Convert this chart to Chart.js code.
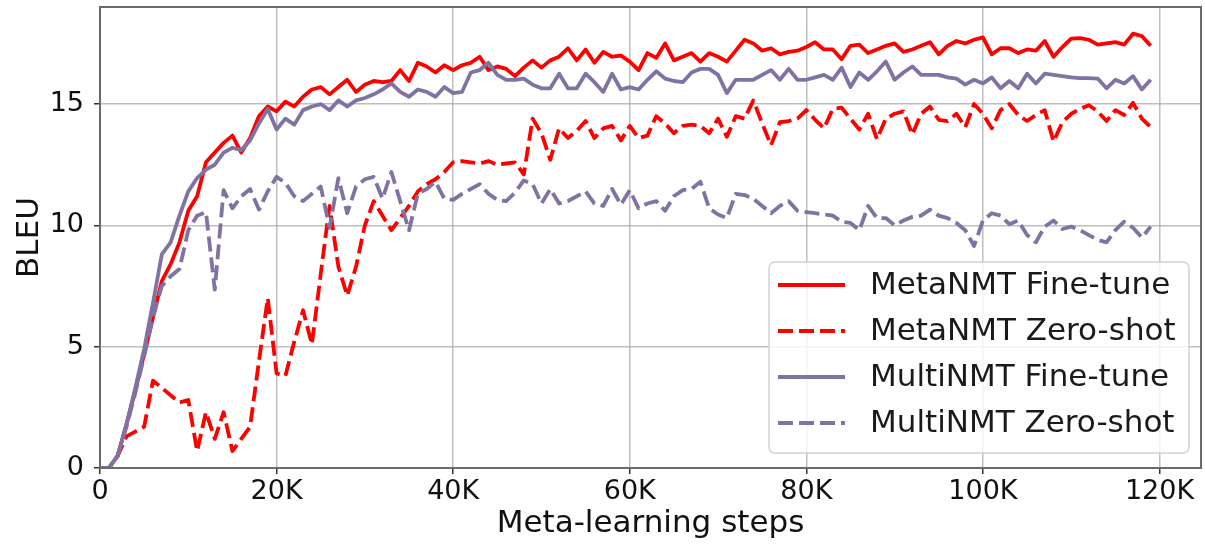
<!DOCTYPE html>
<html>
<head>
<meta charset="utf-8">
<script src="https://cdn.jsdelivr.net/npm/chart.js@4.4.1/dist/chart.umd.min.js"></script>
<style>
  html, body { margin: 0; padding: 0; background: #ffffff; }
  #wrap { width: 1205px; height: 545px; }
</style>
</head>
<body>
<div id="wrap"><canvas id="chart" width="1205" height="545"></canvas></div>
<script>
// Meta-learning steps (thousands)
const steps = [
  0, 1, 2, 3, 4, 5, 6, 7, 8, 9, 10, 11, 12, 13, 14, 15, 16, 17, 18, 19,
  20, 21, 22, 23, 24, 25, 26, 27, 28, 29, 30, 31, 32, 33, 34, 35, 36, 37, 38, 39,
  40, 41, 42, 43, 44, 45, 46, 47, 48, 49, 50, 51, 52, 53, 54, 55, 56, 57, 58, 59,
  60, 61, 62, 63, 64, 65, 66, 67, 68, 69, 70, 71, 72, 73, 74, 75, 76, 77, 78, 79,
  80, 81, 82, 83, 84, 85, 86, 87, 88, 89, 90, 91, 92, 93, 94, 95, 96, 97, 98, 99,
  100, 101, 102, 103, 104, 105, 106, 107, 108, 109, 110, 111, 112, 113, 114, 115, 116, 117, 118, 119
];

// BLEU per step
const metaFineTune = [
  0, 0, 0.5, 1.8, 3.2, 4.7, 6.2, 7.7, 8.4, 9.3, 10.6, 11.2, 12.6, 13.0, 13.4, 13.7, 13.0, 13.6, 14.5, 14.9,
  14.7, 15.1, 14.9, 15.3, 15.6, 15.7, 15.4, 15.7, 16.0, 15.5, 15.8, 15.95, 15.9, 15.95, 16.4, 15.95, 16.7, 16.55, 16.3, 16.6,
  16.4, 16.6, 16.7, 16.95, 16.4, 16.55, 16.45, 16.15, 16.5, 16.8, 16.5, 16.8, 16.95, 17.3, 16.8, 17.25, 16.7, 17.15, 16.95, 17.0,
  16.75, 16.4, 17.1, 16.9, 17.5, 16.8, 16.95, 17.1, 16.75, 17.1, 16.95, 16.75, 17.2, 17.65, 17.5, 17.2, 17.3, 17.05, 17.15, 17.2,
  17.35, 17.55, 17.25, 17.25, 16.85, 17.4, 17.45, 17.1, 17.25, 17.4, 17.5, 17.15, 17.25, 17.4, 17.55, 17.05, 17.4, 17.6, 17.5, 17.65,
  17.75, 17.05, 17.3, 17.3, 17.1, 17.25, 17.2, 17.6, 16.95, 17.35, 17.7, 17.72, 17.65, 17.45, 17.5, 17.55, 17.45, 17.9, 17.8, 17.4
];

const metaZeroShot = [
  0, 0, 0.5, 1.3, 1.5, 1.7, 3.6, 3.3, 3.0, 2.7, 2.8, 0.7, 2.3, 1.2, 2.3, 0.7, 1.2, 1.7, 4.4, 7.0,
  3.9, 3.8, 5.2, 6.5, 5.1, 8.0, 10.8, 8.3, 7.1, 8.3, 10.0, 11.0, 10.4, 9.8, 10.3, 10.8, 11.4, 11.7, 11.9, 12.2,
  12.6, 12.65, 12.6, 12.55, 12.65, 12.5, 12.55, 12.6, 12.1, 14.4, 13.8, 12.7, 14.0, 13.6, 13.9, 14.3, 13.6, 14.0, 14.1, 13.5,
  14.1, 13.6, 13.7, 14.5, 14.2, 13.8, 14.1, 14.15, 14.1, 13.8, 14.4, 13.65, 14.5, 14.4, 15.15, 14.2, 13.3, 14.25, 14.3, 14.4,
  14.75, 14.35, 14.0, 14.8, 14.85, 14.4, 13.95, 14.6, 13.55, 14.4, 14.6, 14.7, 13.75, 14.6, 14.9, 14.35, 14.3, 14.6, 14.05, 15.0,
  14.6, 14.0, 14.75, 15.0, 14.55, 14.3, 14.55, 14.75, 13.45, 14.25, 14.6, 14.8, 14.95, 14.7, 14.3, 14.75, 14.55, 15.05, 14.4, 14.05
];

const multiFineTune = [
  0, 0, 0.5, 1.8, 3.3, 4.9, 6.8, 8.8, 9.3, 10.4, 11.4, 11.95, 12.3, 12.5, 13.0, 13.2, 13.1, 13.5, 14.2, 14.8,
  13.95, 14.4, 14.15, 14.75, 14.9, 15.0, 14.75, 15.15, 14.9, 15.15, 15.25, 15.4, 15.6, 15.85, 15.5, 15.3, 15.6, 15.5, 15.3, 15.7,
  15.45, 15.5, 16.3, 16.4, 16.7, 16.2, 16.0, 16.0, 16.05, 15.8, 15.65, 15.65, 16.25, 15.65, 15.65, 16.25, 15.9, 15.5, 16.25, 15.6,
  15.7, 15.6, 16.0, 16.35, 16.05, 15.95, 15.9, 16.3, 16.45, 16.45, 16.2, 15.45, 16.0, 16.0, 16.0, 16.2, 16.4, 16.0, 16.45, 16.0,
  16.0, 16.1, 16.2, 16.0, 16.5, 15.7, 16.3, 16.0, 16.35, 16.75, 16.0, 16.3, 16.55, 16.2, 16.2, 16.2, 16.1, 16.05, 15.8, 16.0,
  15.85, 16.1, 15.65, 15.95, 15.65, 16.25, 15.85, 16.25, 16.2, 16.15, 16.1, 16.07, 16.07, 16.05, 15.65, 16.0, 15.85, 16.15, 15.6, 16.0
];

const multiZeroShot = [
  0, 0, 0.5, 1.7, 3.1, 4.6, 6.2, 7.5, 7.9, 8.2, 9.8, 10.4, 10.55, 7.35, 11.45, 10.7, 11.2, 11.5, 10.65, 11.4,
  12.0, 11.75, 11.2, 11.0, 11.3, 11.6, 9.9, 11.95, 10.5, 11.6, 11.9, 12.0, 11.1, 12.2, 11.0, 9.8, 11.3, 11.5, 11.8, 11.1,
  11.05, 11.3, 11.5, 11.7, 11.3, 11.05, 11.0, 11.35, 11.85, 11.7, 10.9, 11.5, 10.9, 11.0, 11.2, 11.4, 10.9, 10.8, 11.5, 10.85,
  11.45, 10.7, 10.9, 11.0, 10.6, 11.2, 11.45, 11.5, 11.8, 10.7, 10.45, 10.3, 11.3, 11.25, 11.1, 10.8, 10.5, 10.8, 11.0, 10.6,
  10.55, 10.5, 10.45, 10.4, 10.15, 10.1, 9.8, 10.8, 10.3, 10.3, 10.0, 10.2, 10.35, 10.4, 10.65, 10.4, 10.3, 10.1, 9.8, 9.15,
  10.2, 10.5, 10.4, 10.05, 10.2, 9.6, 9.3, 9.95, 10.2, 9.85, 9.95, 9.8, 9.6, 9.4, 9.3, 9.8, 10.15, 9.9, 9.5, 9.95
];

const seriesNames = ['MetaNMT Fine-tune', 'MetaNMT Zero-shot', 'MultiNMT Fine-tune', 'MultiNMT Zero-shot'];
const xTickValues = [0, 20, 40, 60, 80, 100, 120];
const yTickValues = [0, 5, 10, 15];

const RED = '#ff0000';
const PURPLE = '#8072a2';
const DASH = [15, 6];
const FONT = 'DejaVu Sans';

function points(values) {
  return values.map((v, i) => ({ x: steps[i], y: v }));
}

function lineSet(label, values, color, dashed, order) {
  return {
    label,
    data: points(values),
    borderColor: color,
    backgroundColor: color,
    borderWidth: 3.8,
    borderDash: dashed ? DASH : [],
    borderJoinStyle: 'round',
    borderCapStyle: 'butt',
    pointRadius: 0,
    tension: 0,
    fill: false,
    order
  };
}

// Frame around the plotting area and a boxed legend in the lower right
const frameAndLegend = {
  id: 'frameAndLegend',
  afterDatasetsDraw(chart) {
    const { ctx, chartArea: a } = chart;
    ctx.save();
    ctx.strokeStyle = '#6a6a6a';
    ctx.lineWidth = 2;
    ctx.strokeRect(a.left, a.top, a.right - a.left, a.bottom - a.top);
    ctx.restore();

    const boxW = 420, boxH = 191;
    const bx = a.right - 12 - boxW;
    const by = a.bottom - 15 - boxH;
    ctx.save();
    ctx.beginPath();
    if (ctx.roundRect) ctx.roundRect(bx, by, boxW, boxH, 6);
    else ctx.rect(bx, by, boxW, boxH);
    ctx.fillStyle = 'rgba(255,255,255,0.82)';
    ctx.fill();
    ctx.strokeStyle = '#d2d2d2';
    ctx.lineWidth = 1.5;
    ctx.stroke();

    const rowTop = by + 23;
    const rowGap = 46;
    chart.data.datasets.forEach((ds, i) => {
      const y = rowTop + i * rowGap;
      ctx.beginPath();
      ctx.setLineDash(ds.borderDash || []);
      ctx.lineDashOffset = 0;
      ctx.strokeStyle = ds.borderColor;
      ctx.lineWidth = ds.borderWidth;
      ctx.lineCap = 'butt';
      ctx.moveTo(bx + 9, y);
      ctx.lineTo(bx + 76, y);
      ctx.stroke();
      ctx.setLineDash([]);
      ctx.fillStyle = '#1a1a1a';
      ctx.font = '31px "' + FONT + '"';
      ctx.textBaseline = 'middle';
      ctx.textAlign = 'left';
      ctx.fillText(ds.label, bx + 101, y + 1);
    });
    ctx.restore();
  }
};

const gridStyle = {
  color: 'rgba(170,170,170,0.75)',
  lineWidth: 1.5,
  tickColor: '#333333',
  tickLength: 6,
  tickWidth: 1.5
};

new Chart(document.getElementById('chart'), {
  type: 'line',
  data: {
    datasets: [
      lineSet(seriesNames[0], metaFineTune, RED, false, 4),
      lineSet(seriesNames[1], metaZeroShot, RED, true, 3),
      lineSet(seriesNames[2], multiFineTune, PURPLE, false, 2),
      lineSet(seriesNames[3], multiZeroShot, PURPLE, true, 1)
    ]
  },
  options: {
    responsive: false,
    animation: false,
    devicePixelRatio: 1,
    layout: { padding: { top: 7, right: 4, left: 0, bottom: 0 } },
    plugins: { legend: { display: false }, tooltip: { enabled: false } },
    scales: {
      x: {
        type: 'linear',
        min: 0,
        max: 124.7,
        afterBuildTicks: s => { s.ticks = xTickValues.map(v => ({ value: v })); },
        afterFit: s => { s.height = 77; s.paddingLeft = 0; s.paddingRight = 0; },
        grid: gridStyle,
        border: { display: false },
        ticks: {
          font: { family: FONT, size: 27 },
          color: '#111111',
          padding: 2,
          maxRotation: 0,
          callback: v => (v === 0 ? '0' : v + 'K')
        },
        title: {
          display: true,
          text: 'Meta-learning steps',
          font: { family: FONT, size: 31 },
          color: '#111111',
          padding: { top: 0, bottom: 2 }
        }
      },
      y: {
        min: 0,
        max: 19,
        afterBuildTicks: s => { s.ticks = yTickValues.map(v => ({ value: v })); },
        afterFit: s => { s.width = 100; s.paddingTop = 0; s.paddingBottom = 0; },
        grid: gridStyle,
        border: { display: false },
        ticks: {
          font: { family: FONT, size: 27 },
          color: '#111111',
          padding: 10
        },
        title: {
          display: true,
          text: 'BLEU',
          font: { family: FONT, size: 31 },
          color: '#111111',
          padding: { top: 11, bottom: 0 }
        }
      }
    }
  },
  plugins: [frameAndLegend]
});
</script>
</body>
</html>
